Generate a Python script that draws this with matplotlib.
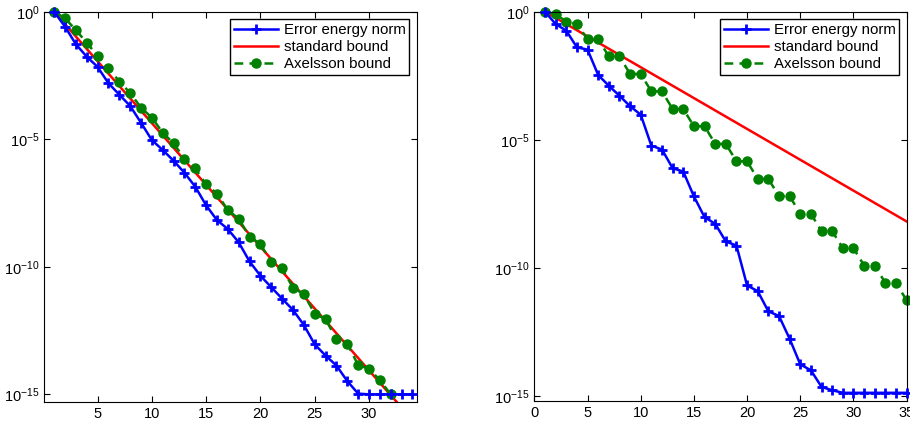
import matplotlib
matplotlib.use("Agg")
import matplotlib.pyplot as plt
import numpy as np

plt.rcParams['font.family'] = ['Liberation Sans', 'DejaVu Sans']
plt.rcParams['mathtext.default'] = 'regular'

# left panel: log10 of the values, iteration index starts at 1
err_a = [0, -0.58, -1.27, -1.76, -2.16, -2.80, -3.25, -3.69, -4.35, -5.03,
         -5.42, -5.84, -6.31, -6.86, -7.59, -8.17, -8.52, -9.04, -9.79, -10.35,
         -10.80, -11.25, -11.69, -12.28, -13.04, -13.48, -13.87, -14.48, -14.97, -15.0,
         -15.0, -15.0, -15.0, -15.0]
axel_a = [0, -0.25, -0.72, -1.21, -1.73, -2.19, -2.74, -3.18, -3.76, -4.15,
          -4.74, -5.16, -5.76, -6.14, -6.77, -7.13, -7.78, -8.11, -8.82, -9.10,
          -9.83, -10.06, -10.82, -11.07, -11.84, -12.05, -12.84, -13.02, -13.85, -14.00,
          -14.44, -15.0]
std_a_x = [1, 34]
std_a = [0, -16.0]

# right panel
err_b = [0, -0.48, -0.74, -1.39, -1.48, -2.47, -2.89, -3.28, -3.69, -4.02,
         -5.23, -5.38, -6.11, -6.24, -7.21, -8.02, -8.28, -8.97, -9.13, -10.69,
         -10.91, -11.70, -11.88, -12.77, -13.77, -14.00, -14.65, -14.78, -14.88, -14.88,
         -14.88, -14.88, -14.88, -14.88, -14.88]
axel_b = [0, -0.09, -0.39, -0.48, -1.07, -1.07, -1.74, -1.74, -2.43, -2.43,
          -3.11, -3.11, -3.80, -3.80, -4.47, -4.47, -5.16, -5.16, -5.84, -5.84,
          -6.53, -6.53, -7.20, -7.20, -7.89, -7.89, -8.57, -8.57, -9.23, -9.23,
          -9.91, -9.91, -10.59, -10.59, -11.27]
std_b_x = [1, 35]
std_b = [0, -8.19]

labels = ['Error energy norm', 'standard bound', 'Axelsson bound']
green = (0, 0.5, 0)

fig = plt.figure(figsize=(9.1, 4.23), dpi=100)
ax1 = fig.add_axes([0.0487, 0.0496, 0.4093, 0.9227])
ax2 = fig.add_axes([0.5872, 0.0520, 0.4091, 0.9203])


def draw(ax, err, axel, sx, sy, xlim, ylo, xticks):
    it_e = np.arange(1, len(err) + 1)
    it_a = np.arange(1, len(axel) + 1)
    ax.semilogy(it_e, 10.0 ** np.array(err), color='b', lw=1.8, marker='+',
                ms=7, mew=2, clip_on=False, zorder=3, label=labels[0])
    ax.semilogy(sx, 10.0 ** np.array(sy), color='r', lw=1.8, zorder=2,
                label=labels[1])
    ax.semilogy(it_a, 10.0 ** np.array(axel), color=green, lw=1.8, ls='--',
                dashes=(3.5, 2.5), marker='o', ms=6.5, clip_on=False,
                zorder=2.5, label=labels[2])
    ax.set_xlim(*xlim)
    ax.set_ylim(10.0 ** ylo, 1.0)
    ax.set_xticks(xticks)
    ax.set_yticks([1e0, 1e-5, 1e-10, 1e-15])
    ax.minorticks_off()
    ax.tick_params(direction='in', top=True, right=True, labelsize=10.5,
                   length=4, width=0.8)
    for s in ax.spines.values():
        s.set_linewidth(0.8)
    leg = ax.legend(loc='upper right', fontsize=10.8, handlelength=2.9,
                    fancybox=False, framealpha=1, edgecolor='k',
                    borderaxespad=0.5, labelspacing=0.2, handletextpad=0.4,
                    borderpad=0.25)
    leg.get_frame().set_linewidth(1.0)


draw(ax1, err_a, axel_a, std_a_x, std_a, (0.1, 34.4), -15.3, [5, 10, 15, 20, 25, 30])
draw(ax2, err_b, axel_b, std_b_x, std_b, (0, 35), -15.2, [0, 5, 10, 15, 20, 25, 30, 35])

fig.savefig('out.png', dpi=100)
